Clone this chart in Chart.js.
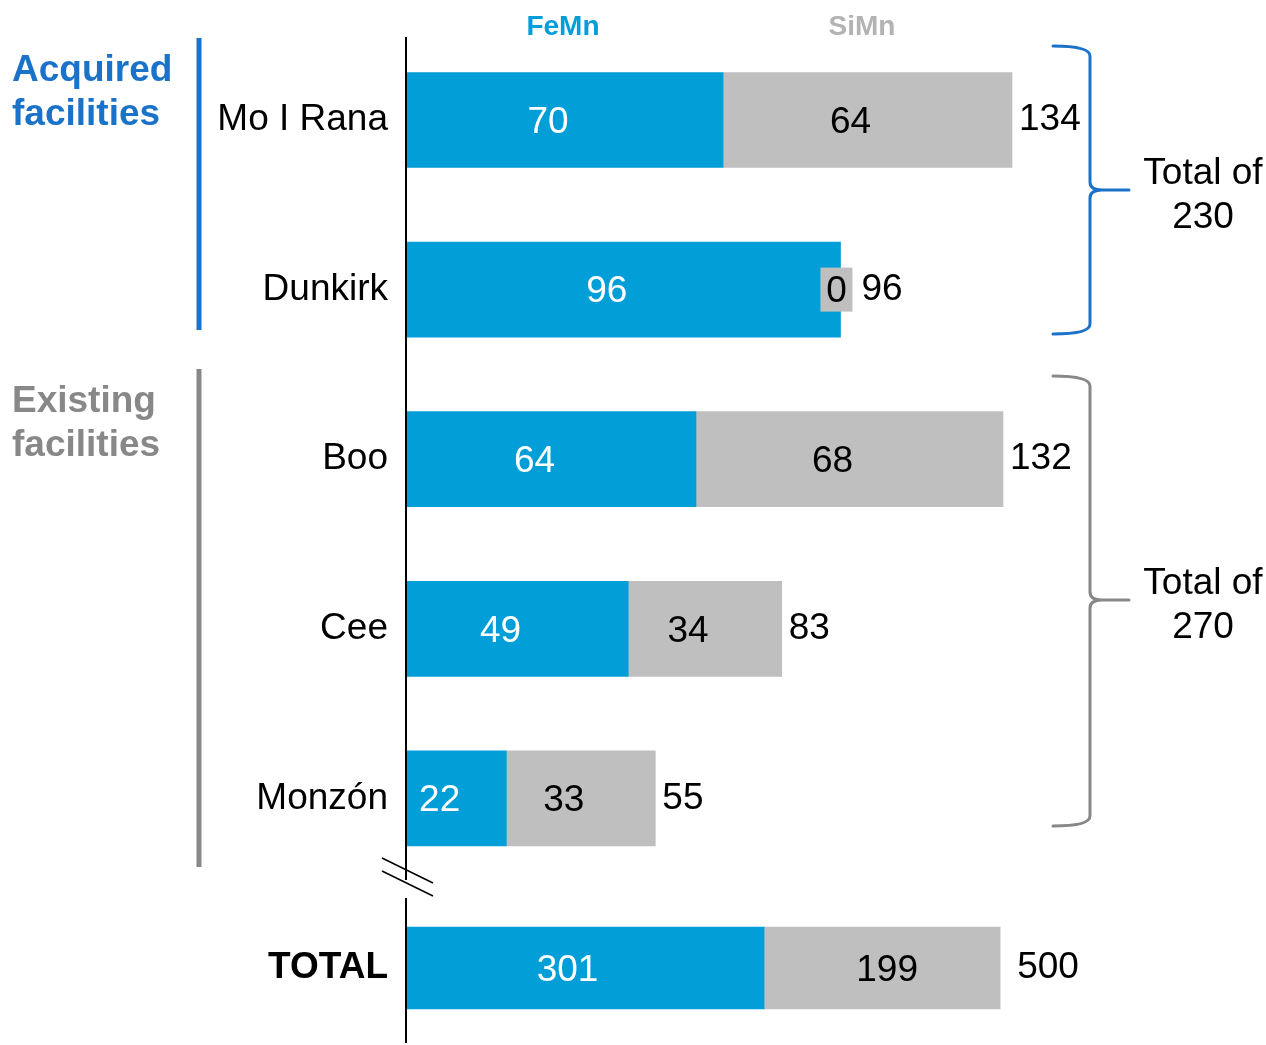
<!DOCTYPE html>
<html>
<head>
<meta charset="utf-8">
<title>FeMn / SiMn capacity by facility</title>
<script src="https://cdn.jsdelivr.net/npm/chart.js@4/dist/chart.umd.min.js"></script>
<style>
  body { margin: 0; background: #fff; }
  #wrap { width: 1266px; height: 1045px; position: relative; }
</style>
</head>
<body>
<div id="wrap"><canvas id="capChart"></canvas></div>
<script>
// data
var categories = ["Mo I Rana", "Dunkirk", "Boo", "Cee", "Monzón", "TOTAL"];
var femn = [70, 96, 64, 49, 22];
var simn = [64, 0, 68, 34, 33];
var groupNames = [["Acquired", "facilities"], ["Existing", "facilities"]];
var groupRanges = [[0, 1], [2, 4]];

var BLUE = "#029ed8";
var GREY = "#bfbfbf";
var FONT = "'Liberation Sans', Arial, Helvetica, sans-serif";

function sum(arr) {
  return arr.reduce(function (a, b) { return a + b; }, 0);
}
var rowTotals = femn.map(function (v, i) { return v + simn[i]; });
var totalFemn = sum(femn);
var totalSimn = sum(simn);

function pad(arr) { return arr.concat([null]); }
function lastOnly(v) { return [null, null, null, null, null, v]; }

Chart.defaults.font.family = FONT;

// value labels inside the bars + totals at the end of each bar
var barLabels = {
  id: "barLabels",
  afterDatasetsDraw: function (chart) {
    var ctx = chart.ctx;
    ctx.save();
    ctx.font = "37px " + FONT;
    ctx.textBaseline = "middle";
    chart.data.datasets.forEach(function (ds, di) {
      var meta = chart.getDatasetMeta(di);
      meta.data.forEach(function (bar, i) {
        var v = ds.data[i];
        if (v === null || v === undefined) return;
        var cx = (bar.x + bar.base) / 2 + ds.labelShift;
        ctx.textAlign = "center";
        if (v === 0) {
          cx = bar.x - 4;
          ctx.fillStyle = GREY;
          ctx.fillRect(cx - 16, bar.y - 22, 32, 44);
        }
        ctx.fillStyle = ds.labelColor;
        ctx.fillText(String(v), cx, bar.y + 2.5);
      });
    });

    // row totals
    var x = chart.scales.x, x2 = chart.scales.x2, y = chart.scales.y;
    ctx.fillStyle = "#000";
    ctx.textAlign = "left";
    rowTotals.forEach(function (t, i) {
      var gap = simn[i] === 0 ? 21 : 7;
      ctx.fillText(String(t), x.getPixelForValue(t) + gap, y.getPixelForValue(i));
    });
    ctx.fillText(String(totalFemn + totalSimn), x2.getPixelForValue(totalFemn + totalSimn) + 17, y.getPixelForValue(5));
    ctx.restore();
  }
};

// axis line with break, group bars, braces, headers
var decor = {
  id: "decor",
  afterDraw: function (chart) {
    var ctx = chart.ctx;
    var area = chart.chartArea;
    var y = chart.scales.y;
    ctx.save();

    // broken vertical axis
    var ax = area.left - 1;
    var breakY = 877;
    ctx.strokeStyle = "#000";
    ctx.lineWidth = 2;
    ctx.beginPath();
    ctx.moveTo(ax, 37);
    ctx.lineTo(ax, breakY + 3);
    ctx.moveTo(ax, breakY + 21);
    ctx.lineTo(ax, chart.height - 2);
    ctx.stroke();
    ctx.lineWidth = 1.5;
    ctx.beginPath();
    ctx.moveTo(ax - 24, breakY - 19);
    ctx.lineTo(ax + 27, breakY + 6);
    ctx.moveTo(ax - 24, breakY - 6);
    ctx.lineTo(ax + 27, breakY + 19);
    ctx.stroke();

    // series headers
    ctx.font = "bold 28px " + FONT;
    ctx.textAlign = "center";
    ctx.textBaseline = "alphabetic";
    ctx.fillStyle = BLUE;
    ctx.fillText("FeMn", 563, 35);
    ctx.fillStyle = "#b3b3b3";
    ctx.fillText("SiMn", 862, 35);

    // group labels and bars on the left
    var groupColors = ["#1a72c9", "#888888"];
    var groupText = [81, 412];
    var groupLine = [[38, 330], [369, 867]];
    ctx.textAlign = "left";
    ctx.font = "bold 37px " + FONT;
    groupNames.forEach(function (lines, g) {
      ctx.fillStyle = groupColors[g];
      ctx.fillText(lines[0], 12, groupText[g]);
      ctx.fillText(lines[1], 12, groupText[g] + 44);
      ctx.fillRect(196.5, groupLine[g][0], 5, groupLine[g][1] - groupLine[g][0]);
    });

    // braces on the right with group totals
    var braces = [[46, 190, 334], [376, 600, 826]];
    groupRanges.forEach(function (r, g) {
      var b = braces[g];
      var xl = 1053, xm = 1090, xt = 1129;
      ctx.strokeStyle = groupColors[g];
      ctx.lineWidth = 3;
      ctx.lineCap = "round";
      ctx.beginPath();
      ctx.moveTo(xl, b[0]);
      ctx.quadraticCurveTo(xm, b[0], xm, b[0] + 10);
      ctx.lineTo(xm, b[1] - 8);
      ctx.quadraticCurveTo(xm, b[1], xm + 12, b[1]);
      ctx.lineTo(xt, b[1]);
      ctx.moveTo(xm + 12, b[1]);
      ctx.quadraticCurveTo(xm, b[1], xm, b[1] + 8);
      ctx.lineTo(xm, b[2] - 10);
      ctx.quadraticCurveTo(xm, b[2], xl, b[2]);
      ctx.stroke();

      var tot = sum(rowTotals.slice(r[0], r[1] + 1));
      ctx.fillStyle = "#000";
      ctx.font = "37px " + FONT;
      ctx.textAlign = "center";
      ctx.fillText("Total of", 1203, b[1] - 6);
      ctx.fillText(String(tot), 1203, b[1] + 38);
    });
    ctx.restore();
  }
};

var ctx = document.getElementById("capChart");
var capChart = new Chart(ctx, {
  type: "bar",
  data: {
    labels: categories,
    datasets: [
      {
        label: "FeMn",
        data: pad(femn),
        xAxisID: "x",
        backgroundColor: BLUE,
        barThickness: 95,
        labelColor: "#fff",
        labelShift: -17,
      },
      {
        label: "SiMn",
        data: pad(simn),
        xAxisID: "x",
        backgroundColor: GREY,
        barThickness: 95,
        labelColor: "#000",
        labelShift: -17,
      },
      {
        label: "FeMn total",
        data: lastOnly(totalFemn),
        xAxisID: "x2",
        backgroundColor: BLUE,
        barThickness: 82,
        labelColor: "#fff",
        labelShift: -18,
      },
      {
        label: "SiMn total",
        data: lastOnly(totalSimn),
        xAxisID: "x2",
        backgroundColor: GREY,
        barThickness: 82,
        labelColor: "#000",
        labelShift: 5,
      },
    ],
  },
  options: {
    indexAxis: "y",
    responsive: true,
    maintainAspectRatio: false,
    animation: false,
    datasets: { bar: { stack: "all", clip: false } },
    layout: { padding: { top: 120, bottom: 77, right: 184, left: 0 } },
    scales: {
      x: { stacked: true, min: 0, max: 149.5, display: false },
      x2: { stacked: true, min: 0, max: 569, display: false },
      y: {
        stacked: true,
        offset: false,
        afterFit: function (scale) { scale.width = 407; },
        grid: { display: false, drawTicks: false },
        border: { display: false },
        ticks: {
          autoSkip: false,
          padding: 19,
          color: "#000",
          font: function (c) {
            return { size: 37, weight: c.index === 5 ? "bold" : "normal" };
          },
        },
      },
    },
    plugins: {
      legend: { display: false },
      tooltip: { enabled: false },
    },
  },
  plugins: [barLabels, decor],
});
</script>
</body>
</html>
